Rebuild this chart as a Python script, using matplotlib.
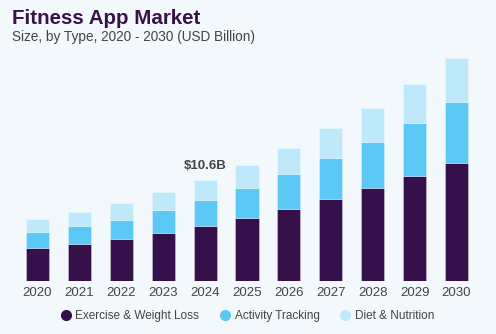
import numpy as np
import matplotlib.pyplot as plt
from matplotlib.lines import Line2D

# Market size by segment, USD billion
years = ["2020", "2021", "2022", "2023", "2024", "2025", "2026", "2027", "2028", "2029", "2030"]
exercise = [3.48, 3.90, 4.39, 5.02, 5.75, 6.56, 7.50, 8.58, 9.70, 10.98, 12.37]
activity = [1.67, 1.85, 2.02, 2.37, 2.72, 3.14, 3.66, 4.26, 4.81, 5.51, 6.32]
diet = [1.33, 1.50, 1.72, 1.88, 2.13, 2.44, 2.78, 3.17, 3.62, 4.14, 4.63]
labels = ["Exercise & Weight Loss", "Activity Tracking", "Diet & Nutrition"]
callout_year = "2024"

bg = "#F3F8FC"
colors = ["#36104A", "#5BC8F5", "#BDE9FA"]
text_c = "#444444"

plt.rcParams['font.family'] = ['Liberation Sans', 'DejaVu Sans']

fig = plt.figure(figsize=(4.96, 3.34), dpi=100, facecolor=bg)
ax = fig.add_axes([0, 53 / 334, 1, 241 / 334], facecolor=bg)

x = np.arange(len(years))
w = 0.55
bottom = np.zeros(len(years))
for vals, c, lab in zip([exercise, activity, diet], colors, labels):
    ax.bar(x, vals, w, bottom=bottom, color=c, edgecolor=(1, 1, 1, 0.35),
           linewidth=0.6, label=lab)
    bottom += np.array(vals)

# total label above the highlighted year
i = years.index(callout_year)
ax.text(x[i], bottom[i] + 0.75, f"${bottom[i]:.1f}B", ha="center", va="bottom",
        fontsize=9.5, fontweight="bold", color=text_c)

ax.set_xlim(-0.895, 10.943)
ax.set_ylim(0, 241 / 9.56)
ax.set_xticks(x)
ax.set_xticklabels(years, fontsize=9.5, color=text_c)
ax.tick_params(axis="x", length=0, pad=4)
ax.set_yticks([])
for s in ax.spines.values():
    s.set_visible(False)

fig.text(12 / 496, 1 - 18 / 334, "Fitness App Market", fontsize=14.8, fontweight="heavy",
         color="#3B1248", va="center", ha="left")
fig.text(12 / 496, 1 - 37 / 334, "Size, by Type, 2020 - 2030 (USD Billion)", fontsize=9.8,
         color=text_c, va="center", ha="left")

handles = [Line2D([], [], marker="o", ls="", markersize=7, markerfacecolor=c,
                  markeredgecolor=c) for c in colors]
fig.legend(handles, labels, loc="center", bbox_to_anchor=(0.497, 18 / 334), ncol=3,
           frameon=False, fontsize=8.5, labelcolor=text_c, handletextpad=0.2,
           columnspacing=1.6, handlelength=1.2)

fig.savefig("out.png", dpi=100, facecolor=bg)
